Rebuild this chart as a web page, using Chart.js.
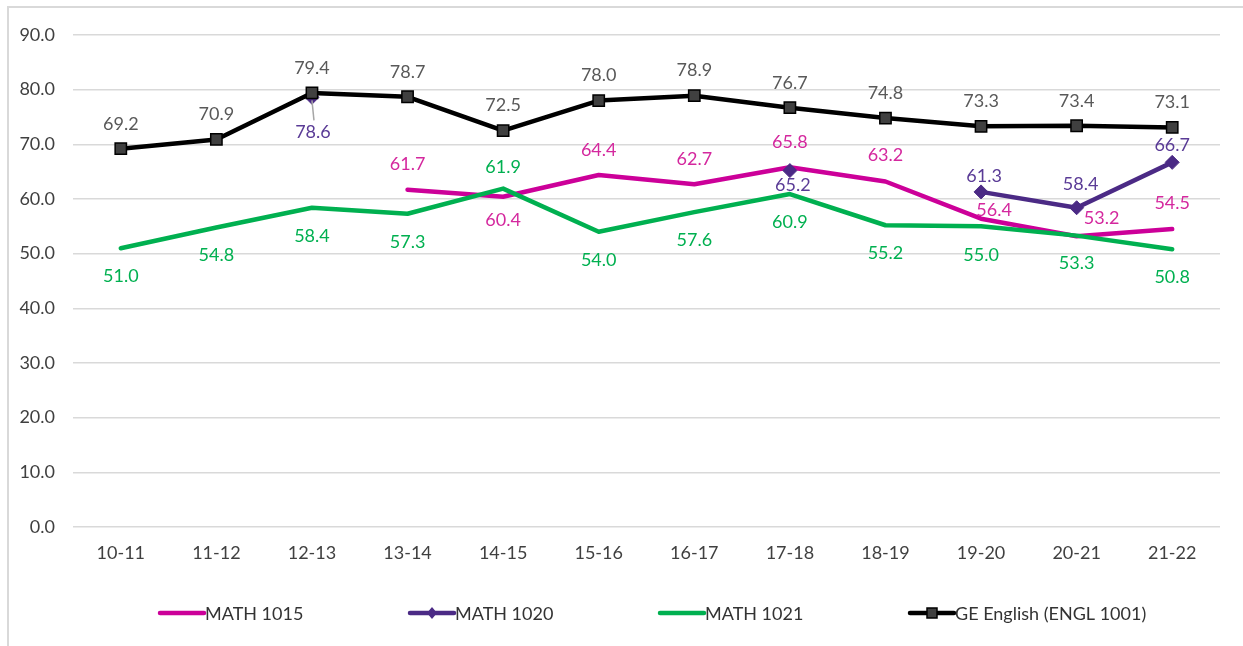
<!DOCTYPE html>
<html>
<head>
<meta charset="utf-8">
<script src="https://cdn.jsdelivr.net/npm/chart.js@4"></script>
<style>
  html, body { margin: 0; padding: 0; background: #fff; }
  #wrap { position: relative; width: 1243px; height: 646px; }
  #frame { position: absolute; left: 7px; top: 6px; right: -5px; bottom: -5px; border-left: 2px solid #d9d9d9; border-top: 2px solid #d9d9d9; pointer-events: none; }
  canvas { position: absolute; left: 0; top: 0; }
</style>
</head>
<body>
<div id="wrap">
  <canvas id="c" width="1243" height="646"></canvas>
  <div id="frame"></div>
</div>
<script>
// ---- data ----
const categories = ['10-11','11-12','12-13','13-14','14-15','15-16','16-17','17-18','18-19','19-20','20-21','21-22'];
const math1015 = [null, null, null, 61.7, 60.4, 64.4, 62.7, 65.8, 63.2, 56.4, 53.2, 54.5];
const math1020 = [null, null, 78.6, null, null, null, null, 65.2, null, 61.3, 58.4, 66.7];
const math1021 = [51.0, 54.8, 58.4, 57.3, 61.9, 54.0, 57.6, 60.9, 55.2, 55.0, 53.3, 50.8];
const engl1001 = [69.2, 70.9, 79.4, 78.7, 72.5, 78.0, 78.9, 76.7, 74.8, 73.3, 73.4, 73.1];
const seriesNames = ['MATH 1015', 'MATH 1020', 'MATH 1021', 'GE English (ENGL 1001)'];
const yTicks = [0, 10, 20, 30, 40, 50, 60, 70, 80, 90];

// ---- label placement (style, pixels relative to point) ----
const labelDy1015 = [0, 0, 0, -26, 23, -25, -25, -25, -26, -8, -18, -26];
const labelDx1015 = [0, 0, 0, 0, 0, 0, 0, 0, 0, 13, 25, 0];
const labelDy1020 = [0, 0, 35, 0, 0, 0, 0, 15, 0, -16, -24, -17];
const labelDx1020 = [0, 0, 1, 0, 0, 0, 0, 3, 0, 3, 4, 0];
const labelDy1021 = [28, 28, 28, 28, -21, 28, 28, 28, 28, 29, 28, 28];
const labelDy1001 = engl1001.map(() => -25);

const FONT = 'Lato, "Open Sans", sans-serif';
const COLORS = {
  m1015: '#CC0099', m1020: '#4B2A85', m1021: '#00B050', eng: '#000000',
  l1015: '#D4289E', l1020: '#5A3B96', l1021: '#00B050', leng: '#595959'
};

const labelsPlugin = {
  id: 'dataLabels',
  afterDatasetsDraw(chart) {
    const ctx = chart.ctx;
    const cfg = [
      { ds: 0, color: COLORS.l1015, dy: labelDy1015, dx: labelDx1015 },
      { ds: 1, color: COLORS.l1020, dy: labelDy1020, dx: labelDx1020 },
      { ds: 2, color: COLORS.l1021, dy: labelDy1021, dx: null },
      { ds: 3, color: COLORS.leng, dy: labelDy1001, dx: null }
    ];
    ctx.save();
    ctx.font = '18px ' + FONT;
    ctx.textAlign = 'center';
    ctx.textBaseline = 'middle';
    cfg.forEach(c => {
      const meta = chart.getDatasetMeta(c.ds);
      const data = chart.data.datasets[c.ds].data;
      meta.data.forEach((pt, i) => {
        const v = data[i];
        if (v === null || v === undefined) return;
        const x = pt.x + (c.dx ? c.dx[i] : 0);
        const y = pt.y + c.dy[i];
        if (c.ds === 1 && i === 2) {
          ctx.strokeStyle = '#a6a6a6';
          ctx.lineWidth = 1.5;
          ctx.beginPath();
          ctx.moveTo(pt.x, pt.y + 3);
          ctx.lineTo(pt.x + 2, y - 12);
          ctx.stroke();
        }
        ctx.fillStyle = c.color;
        ctx.fillText(v.toFixed(1), x, y);
      });
    });
    ctx.restore();
  }
};

const legendPlugin = {
  id: 'customLegend',
  afterDraw(chart) {
    const ctx = chart.ctx;
    const y = chart.chartArea.bottom + 86;
    const first = 160, step = 250, lineLen = 44;
    const lineCols = [COLORS.m1015, COLORS.m1020, COLORS.m1021, COLORS.eng];
    ctx.save();
    ctx.font = '18px ' + FONT;
    ctx.textBaseline = 'middle';
    ctx.textAlign = 'left';
    seriesNames.forEach((name, i) => {
      const x0 = first + i * step, x1 = x0 + lineLen;
      ctx.strokeStyle = lineCols[i];
      ctx.lineWidth = 4.5;
      ctx.lineCap = 'round';
      ctx.beginPath(); ctx.moveTo(x0, y); ctx.lineTo(x1, y); ctx.stroke();
      const cx = (x0 + x1) / 2;
      if (i === 1) {
        ctx.fillStyle = COLORS.m1020;
        ctx.beginPath();
        ctx.moveTo(cx, y - 6); ctx.lineTo(cx + 5, y); ctx.lineTo(cx, y + 6); ctx.lineTo(cx - 5, y); ctx.closePath();
        ctx.fill();
      } else if (i === 3) {
        ctx.fillStyle = '#404040';
        ctx.strokeStyle = '#000';
        ctx.lineWidth = 1.5;
        ctx.fillRect(cx - 5, y - 5, 10, 10);
        ctx.strokeRect(cx - 5, y - 5, 10, 10);
      }
      ctx.fillStyle = '#333333';
      ctx.fillText(name, x1 + 1, y + 1);
    });
    ctx.restore();
  }
};

new Chart(document.getElementById('c'), {
  type: 'line',
  data: {
    labels: categories,
    datasets: [
      { label: seriesNames[0], data: math1015, borderColor: COLORS.m1015, backgroundColor: COLORS.m1015,
        borderWidth: 4.5, pointRadius: 0, order: 3, spanGaps: false },
      { label: seriesNames[1], data: math1020, borderColor: COLORS.m1020, backgroundColor: COLORS.m1020,
        borderWidth: 4.5, pointStyle: 'rectRot', pointRadius: 7, pointBorderWidth: 1, pointBorderColor: COLORS.m1020, order: 2, spanGaps: false },
      { label: seriesNames[2], data: math1021, borderColor: COLORS.m1021, backgroundColor: COLORS.m1021,
        borderWidth: 4.5, pointRadius: 0, order: 1 },
      { label: seriesNames[3], data: engl1001, borderColor: COLORS.eng, backgroundColor: '#404040',
        borderWidth: 4.5, pointStyle: 'rect', pointRadius: 8, pointBorderWidth: 1.5, pointBorderColor: '#000', order: 0 }
    ]
  },
  options: {
    responsive: false,
    animation: false,
    devicePixelRatio: 1,
    layout: { padding: { top: 35, right: 23, left: 0, bottom: 0 } },
    plugins: { legend: { display: false }, tooltip: { enabled: false } },
    elements: { line: { tension: 0, borderCapStyle: 'round', borderJoinStyle: 'round' } },
    scales: {
      x: {
        offset: true,
        grid: { display: false, drawTicks: false },
        border: { display: false },
        ticks: { color: '#404040', font: { family: FONT, size: 18 }, padding: 15, maxRotation: 0 },
        afterFit(s) { s.height = 119; }
      },
      y: {
        min: 0, max: 90,
        afterBuildTicks(s) { s.ticks = yTicks.map(v => ({ value: v })); },
        grid: { color: '#d9d9d9', lineWidth: 1.5, drawTicks: false },
        border: { display: false },
        ticks: { color: '#404040', font: { family: FONT, size: 18 }, padding: 18,
                 callback: v => Number(v).toFixed(1) },
        afterFit(s) { s.width = 73; }
      }
    }
  },
  plugins: [labelsPlugin, legendPlugin]
});
</script>
</body>
</html>
